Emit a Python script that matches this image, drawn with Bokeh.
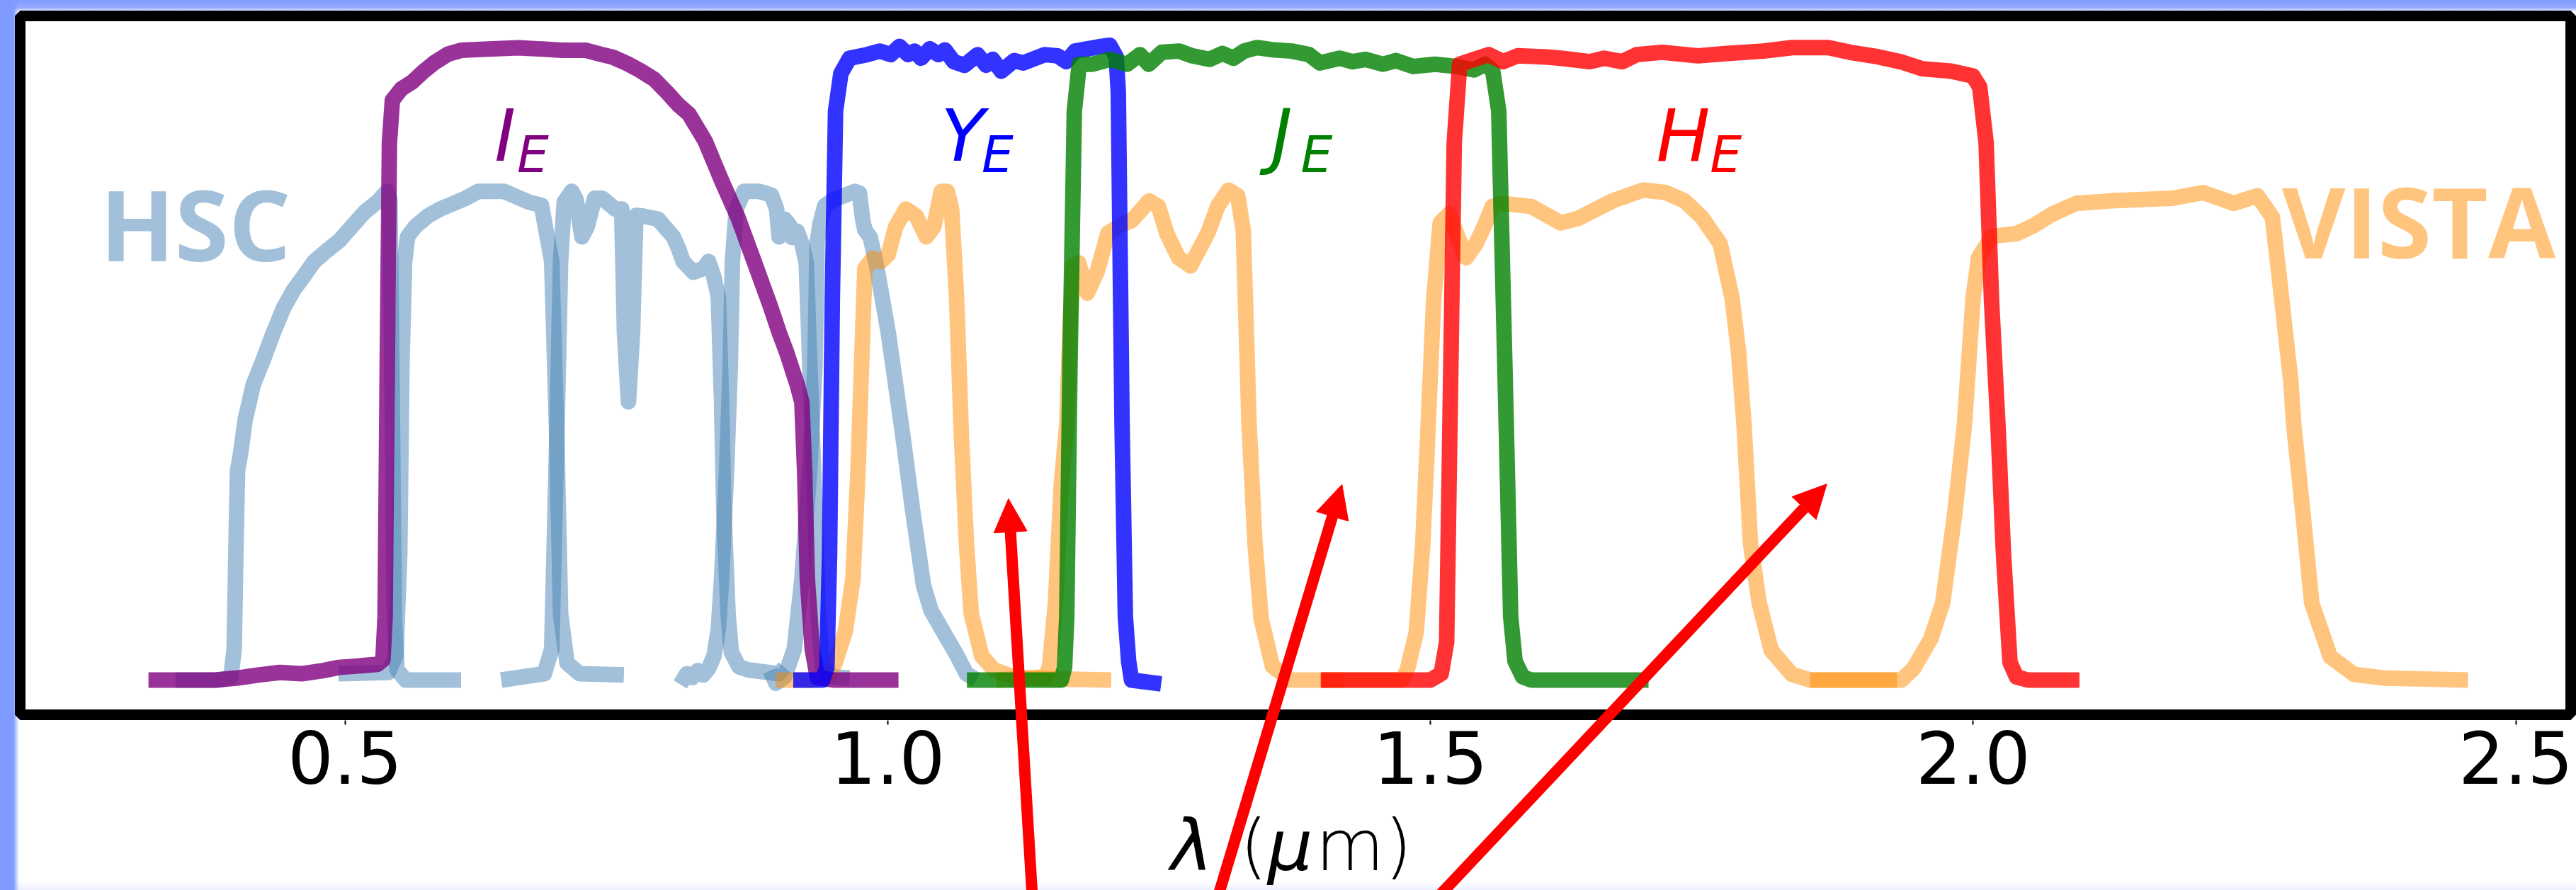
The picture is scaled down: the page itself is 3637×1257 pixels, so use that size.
from bokeh.plotting import figure
from bokeh.models import (Range1d, FixedTicker, NumeralTickFormatter, Label, Arrow, NormalHead,
                          ColumnDataSource, BoxAnnotation)
from bokeh.core.properties import value
from bokeh.embed import file_html
from bokeh.resources import INLINE

# ---------------- data (wavelength in micron, transmission) ----------------
hsc_g_wl = [0.344, 0.385, 0.395, 0.398, 0.3995, 0.401, 0.404, 0.408, 0.4155, 0.4246, 0.4342, 0.4436, 0.4528, 0.4622, 0.4716, 0.4832, 0.4948, 0.5062, 0.518, 0.5297, 0.5388, 0.5415, 0.5435, 0.5455, 0.548, 0.556, 0.607]
hsc_g_tr = [0.0, 0.0, 0.005, 0.05, 0.2, 0.33, 0.36, 0.411, 0.467, 0.506, 0.55, 0.589, 0.617, 0.639, 0.662, 0.679, 0.695, 0.717, 0.740, 0.756, 0.773, 0.76, 0.45, 0.10, 0.016, 0.0, 0.0]

hsc_r_wl = [0.494, 0.540, 0.547, 0.5505, 0.5525, 0.555, 0.5577, 0.5647, 0.5763, 0.5878, 0.6112, 0.623, 0.6463, 0.6693, 0.681, 0.6857, 0.6905, 0.6952, 0.6987, 0.7046, 0.7163, 0.757]
hsc_r_tr = [0.01, 0.012, 0.04, 0.2, 0.5, 0.662, 0.701, 0.717, 0.734, 0.745, 0.762, 0.773, 0.773, 0.756, 0.751, 0.707, 0.662, 0.383, 0.105, 0.027, 0.01, 0.008]

hsc_i_wl = [0.644, 0.6837, 0.6905, 0.6952, 0.6987, 0.702, 0.709, 0.713, 0.7183, 0.7232, 0.730, 0.737, 0.749, 0.755, 0.7575, 0.7612, 0.765, 0.768, 0.774, 0.7885, 0.8025, 0.807, 0.8116, 0.821, 0.8305, 0.835, 0.8397, 0.844, 0.847, 0.849, 0.853, 0.856, 0.863, 0.872, 0.90, 0.905]
hsc_i_tr = [0.0, 0.01, 0.049, 0.383, 0.662, 0.756, 0.773, 0.76, 0.701, 0.717, 0.762, 0.762, 0.745, 0.745, 0.55, 0.44, 0.55, 0.735, 0.734, 0.729, 0.701, 0.684, 0.662, 0.645, 0.651, 0.662, 0.639, 0.606, 0.439, 0.272, 0.104, 0.044, 0.021, 0.016, 0.01, 0.02]

hsc_z_wl = [0.809, 0.815, 0.82, 0.825, 0.83, 0.835, 0.84, 0.844, 0.847, 0.8515, 0.855, 0.857, 0.8605, 0.8676, 0.8815, 0.893, 0.8977, 0.90, 0.905, 0.9095, 0.912, 0.9167, 0.921, 0.925, 0.9284, 0.933, 0.936, 0.94, 0.95, 0.965]
hsc_z_tr = [-0.007, 0.01, 0.004, 0.015, 0.008, 0.018, 0.038, 0.08, 0.16, 0.327, 0.495, 0.662, 0.745, 0.773, 0.773, 0.767, 0.745, 0.701, 0.729, 0.72, 0.70, 0.71, 0.69, 0.66, 0.495, 0.272, 0.104, 0.021, 0.005, 0.003]

hsc_y_wl = [0.892, 0.897, 0.905, 0.914, 0.921, 0.928, 0.933, 0.935, 0.9375, 0.942, 0.950, 0.961, 0.970, 0.974, 0.977, 0.979, 0.984, 0.989, 0.9937, 1.0005, 1.0074, 1.0145, 1.0237, 1.033, 1.04, 1.0517, 1.0635, 1.0726, 1.082]
hsc_y_tr = [0.015, -0.005, 0.005, 0.049, 0.16, 0.327, 0.495, 0.69, 0.72, 0.75, 0.76, 0.767, 0.773, 0.77, 0.728, 0.712, 0.70, 0.662, 0.617, 0.55, 0.467, 0.38, 0.26, 0.15, 0.11, 0.075, 0.04, 0.01, 0.0]

vista_y_wl = [0.897, 0.93, 0.945, 0.9516, 0.961, 0.968, 0.9726, 0.977, 0.979, 0.9865, 0.9937, 1.0005, 1.0074, 1.0168, 1.0263, 1.0355, 1.0426, 1.0494, 1.055, 1.0589, 1.0635, 1.068, 1.0726, 1.077, 1.0867, 1.098, 1.12, 1.206]
vista_y_tr = [0.0, 0.0, 0.005, 0.027, 0.077, 0.16, 0.327, 0.55, 0.651, 0.667, 0.662, 0.673, 0.717, 0.745, 0.734, 0.701, 0.717, 0.773, 0.773, 0.745, 0.606, 0.383, 0.216, 0.105, 0.038, 0.016, 0.003, 0.0]

vista_j_wl = [1.10, 1.145, 1.149, 1.1546, 1.16, 1.165, 1.168, 1.171, 1.176, 1.184, 1.193, 1.203, 1.214, 1.225, 1.241, 1.2495, 1.257, 1.268, 1.279, 1.287, 1.295, 1.304, 1.314, 1.3225, 1.3277, 1.333, 1.3385, 1.344, 1.3545, 1.371, 1.42]
vista_j_tr = [0.0, 0.005, 0.02, 0.122, 0.31, 0.403, 0.56, 0.655, 0.66, 0.612, 0.646, 0.707, 0.719, 0.727, 0.758, 0.749, 0.707, 0.668, 0.655, 0.681, 0.707, 0.749, 0.775, 0.766, 0.71, 0.403, 0.215, 0.098, 0.022, 0.0, 0.0]

vista_h_wl = [1.40, 1.474, 1.479, 1.487, 1.493, 1.498, 1.503, 1.509, 1.517, 1.528, 1.533, 1.542, 1.55, 1.557, 1.566, 1.593, 1.62, 1.636, 1.668, 1.696, 1.717, 1.734, 1.75, 1.767, 1.778, 1.784, 1.789, 1.795, 1.803, 1.814, 1.833, 1.85, 1.93]
vista_h_tr = [0.0, 0.0, 0.018, 0.075, 0.215, 0.403, 0.6, 0.723, 0.737, 0.69, 0.668, 0.69, 0.719, 0.749, 0.754, 0.749, 0.723, 0.73, 0.758, 0.775, 0.771, 0.758, 0.732, 0.69, 0.604, 0.518, 0.403, 0.215, 0.122, 0.047, 0.009, 0.0, 0.0]

vista_k_wl = [1.85, 1.934, 1.945, 1.961, 1.972, 1.983, 1.992, 2.0, 2.005, 2.0175, 2.04, 2.056, 2.073, 2.095, 2.128, 2.184, 2.212, 2.24, 2.262, 2.2757, 2.2815, 2.287, 2.2926, 2.2955, 2.304, 2.312, 2.329, 2.351, 2.38, 2.456]
vista_k_tr = [0.0, 0.0, 0.018, 0.065, 0.122, 0.262, 0.403, 0.604, 0.668, 0.702, 0.706, 0.719, 0.737, 0.754, 0.758, 0.762, 0.771, 0.754, 0.766, 0.732, 0.646, 0.561, 0.475, 0.403, 0.262, 0.122, 0.037, 0.009, 0.003, 0.0]

euclid_i_wl = [0.319, 0.38, 0.40, 0.42, 0.44, 0.46, 0.48, 0.4944, 0.51, 0.53, 0.535, 0.537, 0.539, 0.541, 0.5437, 0.552, 0.562, 0.572, 0.582, 0.595, 0.607, 0.632, 0.66, 0.682, 0.70, 0.722, 0.735, 0.747, 0.76, 0.772, 0.785, 0.797, 0.807, 0.817, 0.832, 0.847, 0.862, 0.877, 0.892, 0.90, 0.907, 0.9167, 0.921, 0.9236, 0.926, 0.9305, 0.9352, 0.95, 1.01]
euclid_i_tr = [0.0, 0.0, 0.003, 0.008, 0.012, 0.01, 0.015, 0.02, 0.022, 0.025, 0.032, 0.1, 0.5, 0.85, 0.917, 0.935, 0.946, 0.962, 0.976, 0.99, 0.996, 0.998, 1.0, 0.998, 0.996, 0.996, 0.99, 0.985, 0.975, 0.964, 0.95, 0.929, 0.91, 0.895, 0.852, 0.79, 0.732, 0.662, 0.591, 0.55, 0.518, 0.467, 0.439, 0.327, 0.16, 0.049, 0.004, 0.0, 0.0]

euclid_y_wl = [0.913, 0.94, 0.944, 0.9465, 0.949, 0.952, 0.9569, 0.9649, 0.9809, 0.9929, 1.0028, 1.0109, 1.0188, 1.0248, 1.0308, 1.0388, 1.0468, 1.0528, 1.0609, 1.0708, 1.0828, 1.0907, 1.0967, 1.1047, 1.1167, 1.1247, 1.1446, 1.1566, 1.1646, 1.1726, 1.1846, 1.1966, 1.2046, 1.2106, 1.2125, 1.214, 1.216, 1.219, 1.222, 1.2247, 1.252]
euclid_y_tr = [0.0, 0.0, 0.02, 0.2, 0.6, 0.9, 0.9593, 0.9835, 0.9892, 0.9948, 0.9892, 1.0022, 0.9892, 0.9948, 0.9835, 0.9985, 0.9892, 0.9966, 0.978, 0.9723, 0.9892, 0.9723, 0.9817, 0.963, 0.9798, 0.976, 0.9892, 0.9873, 0.978, 0.9948, 0.9985, 1.0022, 1.004, 0.9855, 0.93, 0.7, 0.4, 0.1, 0.03, 0.0, -0.006]

euclid_j_wl = [1.073, 1.16, 1.163, 1.165, 1.168, 1.172, 1.1765, 1.1886, 1.2046, 1.2206, 1.2325, 1.2406, 1.2526, 1.2685, 1.2805, 1.2964, 1.3085, 1.3185, 1.3284, 1.3404, 1.3564, 1.3724, 1.3883, 1.3983, 1.4163, 1.4282, 1.4403, 1.4563, 1.4683, 1.4842, 1.5042, 1.5242, 1.5402, 1.5502, 1.5574, 1.563, 1.5686, 1.574, 1.578, 1.585, 1.593, 1.701]
euclid_j_tr = [0.0, 0.0, 0.02, 0.1, 0.5, 0.9, 0.974, 0.974, 0.9817, 0.974, 0.9892, 0.974, 0.993, 0.9948, 0.9873, 0.9817, 0.991, 0.9835, 0.9948, 1.0003, 0.9966, 0.9948, 0.9892, 0.976, 0.9835, 0.978, 0.9817, 0.974, 0.9798, 0.9705, 0.974, 0.9705, 0.9649, 0.974, 0.964, 0.9, 0.5, 0.1, 0.03, 0.005, 0.0, 0.0]

euclid_h_wl = [1.399, 1.50, 1.51, 1.515, 1.518, 1.522, 1.527, 1.5403, 1.5537, 1.567, 1.5803, 1.6069, 1.6203, 1.6469, 1.6602, 1.6768, 1.6902, 1.7134, 1.7467, 1.7734, 1.8067, 1.8333, 1.8666, 1.8866, 1.9132, 1.9332, 1.9532, 1.9798, 1.9998, 2.0061, 2.012, 2.017, 2.023, 2.028, 2.034, 2.04, 2.0507, 2.098]
euclid_h_tr = [0.0, 0.0, 0.01, 0.06, 0.4, 0.85, 0.974, 0.9817, 0.9892, 0.978, 0.9873, 0.9855, 0.9835, 0.978, 0.9835, 0.978, 0.9892, 0.9929, 0.9873, 0.991, 0.9948, 1.0003, 1.0003, 0.9929, 0.9855, 0.978, 0.9668, 0.963, 0.9556, 0.938, 0.85, 0.6, 0.4, 0.2, 0.028, 0.005, 0.0, 0.0]

survey_names = ["HSC", "VISTA"]
euclid_bands = ["I", "Y", "J", "H"]
euclid_sub = ["E", "E", "E", "E"]
x_tick_values = [0.5, 1.0, 1.5, 2.0, 2.5]
x_axis_label_parts = ["λ", "(", "μ", "m)"]

# axes box limits (data units)
BOX_L, BOX_R, BOX_B, BOX_T = 0.2008, 2.5506, -0.0549, 1.0504

# arrows (tail -> tip) in data units
arrow_tail_x = [1.1346, 1.2976, 1.4863]
arrow_tail_y = [-0.381, -0.381, -0.381]
arrow_tip_x = [1.1113, 1.4186, 1.8653]
arrow_tip_y = [0.2868, 0.3093, 0.3102]

# ---------------- figure ----------------
p = figure(width=3637, height=1257, output_backend="svg", toolbar_location=None,
           x_range=Range1d(0.18254, 2.55579), y_range=Range1d(-0.33259, 1.07503),
           min_border_left=0, min_border_right=0, min_border_top=0, min_border_bottom=0)
p.outline_line_color = None
p.background_fill_alpha = 0.0
p.border_fill_alpha = 0.0
p.styles = {"background": "linear-gradient(to right, rgb(128,155,255) 0px, rgb(128,155,255) 19px, rgba(255,255,255,0) 27px), "
                          "linear-gradient(to bottom, rgb(128,155,255) 0px, rgb(150,172,255) 11px, rgb(255,255,255) 17px, rgb(255,255,255) 1244px, rgb(238,240,255) 1257px)"}
p.xgrid.visible = False
p.ygrid.visible = False
p.yaxis.visible = False

xa = p.xaxis[0]
xa.fixed_location = BOX_B - 7.5 / 893.0
xa.ticker = FixedTicker(ticks=x_tick_values)
xa.formatter = NumeralTickFormatter(format="0.0")
xa.major_label_text_font = "DejaVu Sans"
xa.major_label_text_font_size = "102px"
xa.major_label_text_color = "black"
xa.major_label_standoff = 9
xa.major_tick_in = 0
xa.major_tick_out = 6
xa.major_tick_line_width = 2
xa.major_tick_line_color = "black"
xa.minor_tick_line_color = None
xa.axis_line_color = None

LW = 22
for wl, tr in [(hsc_g_wl, hsc_g_tr), (hsc_r_wl, hsc_r_tr), (hsc_i_wl, hsc_i_tr), (hsc_z_wl, hsc_z_tr), (hsc_y_wl, hsc_y_tr)]:
    p.line(wl, tr, line_color="steelblue", line_alpha=0.5, line_width=LW, line_join="round")
for wl, tr in [(vista_y_wl, vista_y_tr), (vista_j_wl, vista_j_tr), (vista_h_wl, vista_h_tr), (vista_k_wl, vista_k_tr)]:
    p.line(wl, tr, line_color="darkorange", line_alpha=0.5, line_width=LW, line_join="round")
for wl, tr, c in [(euclid_i_wl, euclid_i_tr, "purple"), (euclid_y_wl, euclid_y_tr, "blue"),
                  (euclid_j_wl, euclid_j_tr, "green"), (euclid_h_wl, euclid_h_tr, "red")]:
    p.line(wl, tr, line_color=c, line_alpha=0.8, line_width=LW, line_join="round")

# survey labels (y = vertical centre of the text box)
sv = ColumnDataSource(dict(x=[0.3623, 2.4106], y=[0.7228, 0.7273], t=survey_names,
                           c=["steelblue", "darkorange"]))
p.text(x="x", y="y", text="t", source=sv, text_color="c", text_alpha=0.5,
       text_font=value("Open Sans"), text_font_style="bold", text_font_size="138px",
       text_align="center", text_baseline="alphabetic")

# Euclid band labels with subscripts
band_colors = ["purple", "blue", "green", "red"]
eb = ColumnDataSource(dict(x=[0.6475, 1.0693, 1.3633, 1.733], y=[0.8611] * 4, t=euclid_bands, c=band_colors))
p.text(x="x", y="y", text="t", source=eb, text_color="c",
       text_font=value("DejaVu Sans"), text_font_style="italic", text_font_size="101px",
       text_align="center", text_baseline="alphabetic")
es = ColumnDataSource(dict(x=[0.6732, 1.1013, 1.3953, 1.7722], y=[0.8305] * 4, t=euclid_sub, c=band_colors))
p.text(x="x", y="y", text="t", source=es, text_color="c",
       text_font=value("DejaVu Sans"), text_font_style="italic", text_font_size="71px",
       text_align="center", text_baseline="alphabetic")

# axes box (thick black frame)
p.add_layout(BoxAnnotation(left=BOX_L, right=BOX_R, bottom=BOX_B, top=BOX_T,
                           fill_alpha=0.0, line_color="black", line_width=15, line_alpha=1.0))

# axis label pieces
for txt, xx, st in zip(x_axis_label_parts, [1.2801, 1.3372, 1.3708, 1.4387], ["italic", "normal", "italic", "normal"]):
    p.add_layout(Label(x=xx, y=-0.2620, text=txt, text_font="DejaVu Sans", text_font_style=st,
                       text_font_size="100px", text_color="black", text_align="center", text_baseline="alphabetic"))

# arrows
for x0, y0, x1, y1 in zip(arrow_tail_x, arrow_tail_y, arrow_tip_x, arrow_tip_y):
    p.add_layout(Arrow(end=NormalHead(size=47, fill_color="red", line_color="red"),
                       x_start=x0, y_start=y0, x_end=x1, y_end=y1,
                       line_color="red", line_width=16))

open("out.html", "w").write(file_html(p, INLINE))
